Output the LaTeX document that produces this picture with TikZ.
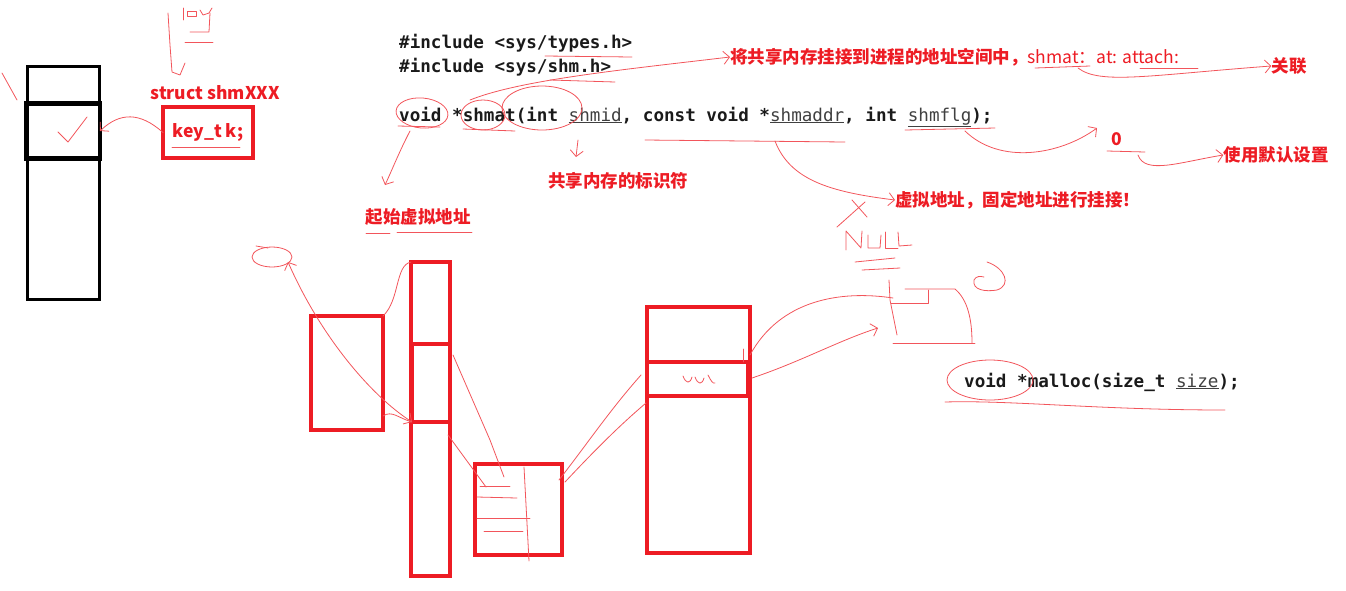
\documentclass[tikz,border=0pt]{standalone}
\usepackage{fontspec}
\setmonofont{DejaVu Sans Mono}
\newfontfamily\cjk{Noto Sans CJK SC}
\usetikzlibrary{arrows.meta}
\definecolor{ink}{RGB}{237,28,36}
\definecolor{codeink}{RGB}{26,26,26}
\newcommand\argname[1]{{\mdseries\textcolor{black!75}{\underline{#1}}}}
\tikzset{
  memblock/.style={draw=ink, line width=3.2pt, inner sep=0pt, outer sep=0pt},
  blackblock/.style={draw=black, line width=3pt, inner sep=0pt, outer sep=0pt},
  pen/.style={draw=ink!75, line width=0.8pt, line cap=round, line join=round},
  penarrow/.style={pen, -{Straight Barb[length=6pt,width=13pt]}},
  codetext/.style={font=\ttfamily\bfseries\fontsize{17.6}{20}\selectfont, text=codeink, anchor=base west, inner sep=0pt},
  note/.style={font=\cjk\bfseries\fontsize{17.5}{20}\selectfont, text=ink, inner sep=0pt}
}
\begin{document}
\begin{tikzpicture}[x=1pt,y=-1pt]
  \useasboundingbox (0,0) rectangle (1346,590);
  \node[blackblock, minimum width=72, minimum height=233] (seglist) at (63,182.5) {};
  \node[blackblock, line width=4.5pt, minimum width=74, minimum height=55] (segentry) at (63,131) {};
  \node[note] (structname) at (215,93) {struct shmXXX};
  \node[memblock, minimum width=90, minimum height=51, note] (keybox) at (208,132.5) {key\_t k;};

  \node[codetext] (inctypes) at (399,48) {\#include <sys/types.h>};
  \node[codetext] (incshm) at (399,72) {\#include <sys/shm.h>};
  \node[codetext] (shmatline) at (399,121) {void *shmat(int \argname{shmid}, const void *\argname{shmaddr}, int \argname{shmflg});};
  \node[codetext] (mallocline) at (964,387) {void *malloc(size\_t \argname{size});};

  \node[note, anchor=west] (attachnote) at (730,57) {将共享内存挂接到进程的地址空间中，{\mdseries shmat：at: attach:}};
  \node[note] (relate) at (1289,66) {关联};
  \node[note] (zero) at (1117,139) {0};
  \node[note] (defaults) at (1276,155) {使用默认设置};
  \node[note, anchor=west] (fixaddr) at (895,200) {虚拟地址，固定地址进行挂接！};
  \node[note] (idnote) at (618,181) {共享内存的标识符};
  \node[note] (startaddr) at (418,217) {起始虚拟地址};

  \node[memblock, minimum width=72, minimum height=114] (procA) at (347,373) {};
  \node[memblock, minimum width=39, minimum height=314] (vspace) at (430.5,419) {};
  \node[memblock, minimum width=38, minimum height=78] (vslot) at (431,383) {};
  \node[memblock, minimum width=87, minimum height=91] (pagetab) at (518.5,509.5) {};
  \node[memblock, minimum width=103, minimum height=246] (physmem) at (698.5,430) {};
  \node[memblock, minimum width=101, minimum height=34] (physslot) at (697.5,379) {};

  \coordinate (voidmark) at (410,131);
  \coordinate (shmidmark) at (578,140);
  \coordinate (addrmark) at (775,141);
  \coordinate (flgmark) at (965,131);
  \coordinate (zeromark) at (1138,155);
  \coordinate (attachmark) at (1078,68);
  \coordinate (loop) at (288,262);
  \coordinate (nullbox) at (893,298);

  \begin{scope}[pen]
    \draw[rotate around={-5:(422,113)}] (422,113) ellipse (26 and 15);
    \draw (483,115) ellipse (22 and 15);
    \draw (542,108) ellipse (40 and 22);
    \draw (990,380) ellipse (43 and 20);
    \draw (545,56) -- (632,57);
    \draw (550,80) -- (615,82);
    \draw (398,126) -- (440,127);
    \draw (463,129) -- (515,131);
    \draw (645,140) -- (845,142);
    \draw (905,130) -- (995,128);
    \draw (1035,68) -- (1090,66);
    \draw (1140,68) -- (1198,68);
    \draw (366,233) -- (390,233);
    \draw (397,232) -- (472,232);
    \draw (1107,151) -- (1145,152);
    \draw (945,402) .. controls (1010,400) and (1100,410) .. (1225,410);
    \draw (172,147) -- (240,147);
    \draw (2,73) -- (17,100);
    \draw (58,132) -- (68,142) -- (87,117);
    \draw (168,13) -- (170,45) -- (172,72) -- (180,75) -- (185,63);
    \draw (183,8) -- (183,20);
    \draw (187,11) rectangle (196,16);
    \draw (200,10) -- (203,15) -- (209,13) -- (212,8);
    \draw (210,13) -- (209,32) -- (190,32);
    \draw (185,42) -- (213,42);
    \draw (272,257) ellipse (20 and 10);
    \draw (256,246) -- (268,248);
    \draw (procA.north east) .. controls (400,300) and (395,265) .. (vspace.north west);
    \draw (453,355) -- (490,440) -- (504,477);
    \draw (448,435) -- (486,487);
    \draw (524,467) -- (529,561);
    \draw (480,486) -- (510,486);
    \draw (477,497) -- (517,498);
    \draw (477,518) -- (530,518);
    \draw (484,531) -- (523,531);
    \draw (559,480) .. controls (590,440) and (610,410) .. (641,375);
    \draw (565,482) .. controls (595,450) and (620,425) .. (646,403);
    \draw (683,376) .. controls (686,384) and (690,384) .. (692,377);
    \draw (695,377) .. controls (698,385) and (702,385) .. (704,378);
    \draw (708,375) .. controls (711,381) and (713,384) .. (715,383);
    \draw (743,349) -- (743,362);
    \draw (750,355) .. controls (780,300) and (840,290) .. (nullbox);
    \draw (852,200) -- (867,217);
    \draw (865,202) -- (837,227);
    \draw (846,250) -- (846,231) -- (861,248) -- (862,231);
    \draw (868,235) -- (868,248) -- (880,248) -- (881,235);
    \draw (885,232) -- (885,248) -- (898,248);
    \draw (898,232) -- (899,246) -- (912,245);
    \draw (855,262) -- (895,258);
    \draw (862,270) -- (900,268);
    \draw (889,280) -- (890,300) -- (897,335);
    \draw (891,303) -- (928,303) -- (928,290);
    \draw (905,289) -- (955,289) .. controls (968,300) and (972,320) .. (972,343);
    \draw (893,343) -- (975,343);
    \draw (987,262) .. controls (1005,268) and (1012,285) .. (997,290) .. controls (985,292) and (972,290) .. (974,280) .. controls (976,276) and (980,276) .. (984,277);
  \end{scope}

  \draw[penarrow] (keybox.west) .. controls (140,112) and (120,112) .. (segentry.east);
  \draw[penarrow] (470,100) .. controls (520,80) and (620,70) .. (attachnote.west);
  \draw[penarrow] (voidmark) .. controls (400,150) and (392,170) .. (385,185);
  \draw[penarrow] (shmidmark) -- (576,157);
  \draw[penarrow] (addrmark) .. controls (790,180) and (830,192) .. (fixaddr.west);
  \draw[penarrow] (flgmark) .. controls (1000,165) and (1060,155) .. (1097,128);
  \draw[penarrow] (zeromark) .. controls (1145,175) and (1180,162) .. (defaults.west);
  \draw[penarrow] (attachmark) .. controls (1100,85) and (1150,75) .. (relate.west);
  \draw[pen, {Straight Barb[length=6pt,width=13pt]}-{Straight Barb[length=6pt,width=13pt]}] (loop) .. controls (320,335) and (370,395) .. (vslot.south west);
  \draw[pen] (procA.east |- 0,416) .. controls (392,410) and (398,418) .. (vslot.south west);
  \draw[penarrow] (752,378) .. controls (800,362) and (840,340) .. (878,328);
\end{tikzpicture}
\end{document}
